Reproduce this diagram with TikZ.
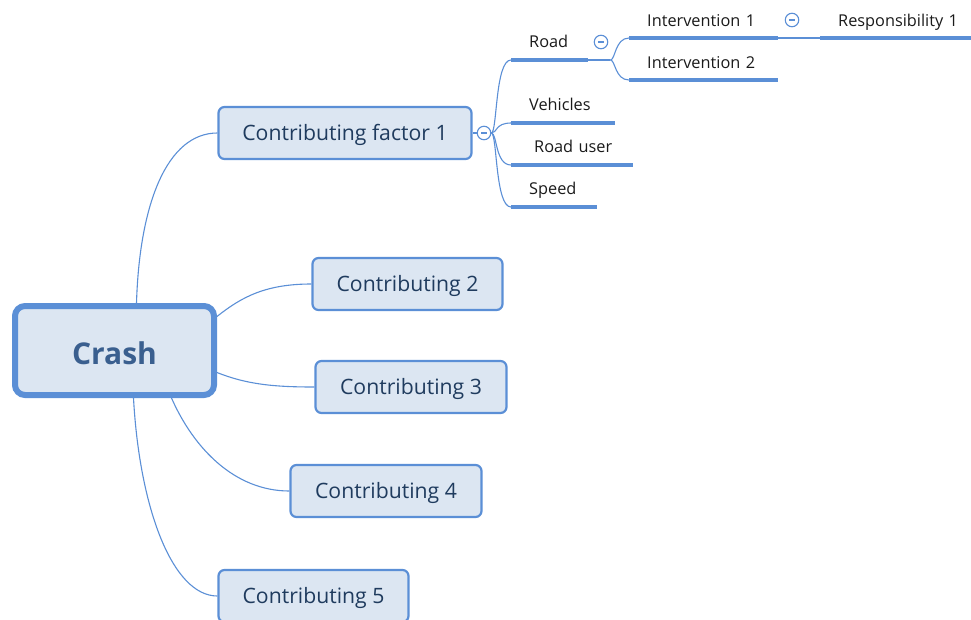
\documentclass[tikz,border=0pt]{standalone}
\usepackage{fontspec}
\setmainfont{Open Sans}
\definecolor{mblue}{HTML}{5B8FD6}
\definecolor{mfill}{HTML}{DCE6F2}
\definecolor{mtext}{HTML}{1F3B5E}
\definecolor{ctext}{HTML}{3A5F8F}
\definecolor{stext}{HTML}{1A1A1A}
\begin{document}
\begin{tikzpicture}[x=1pt,y=-1pt,
  conn/.style={draw=mblue, line width=1.1pt},
  uline/.style={draw=mblue, line width=3.6pt},
  central/.style={draw=mblue, fill=mfill, line width=6pt, rounded corners=10pt,
    minimum width=199pt, minimum height=89pt, text=ctext, text height=28.8pt, text depth=0pt,
    font=\fontsize{30}{34}\selectfont\bfseries},
  mainbox/.style={draw=mblue, fill=mfill, line width=2.2pt, rounded corners=6pt,
    minimum height=52pt, text=mtext, text height=20pt, text depth=5pt,
    font=\fontsize{21.2}{25}\selectfont},
  topic/.style={anchor=south west, inner xsep=0pt, inner ysep=0pt,
    text=stext, font=\fontsize{16.3}{19}\selectfont, align=left, text width=#1},
  icon/.style={circle, draw=mblue, fill=white, line width=1.1pt, minimum size=13.5pt, inner sep=0pt,
    path picture={\draw[mblue, line width=1.1pt] ([xshift=-3pt]path picture bounding box.center) -- ([xshift=3pt]path picture bounding box.center);}}
]
\useasboundingbox (0,0) rectangle (971,619);

% central and main topics
\node[central] (crash) at (114.5,350.5) {Crash};
\node[mainbox, minimum width=253pt] (cf1) at (345,133) {Contributing factor 1};
\node[mainbox, minimum width=190pt] (c2) at (407.5,284) {Contributing 2};
\node[mainbox, minimum width=191pt] (c3) at (411,387) {Contributing 3};
\node[mainbox, minimum width=191pt] (c4) at (386,491) {Contributing 4};
\node[mainbox, minimum width=190pt] (c5) at (313.5,596) {Contributing 5};

% connectors from the central topic
\draw[conn] ([xshift=22pt]crash.north) .. controls +(3,-100) and +(-50,0) .. (cf1.west);
\draw[conn] ([yshift=34pt]crash.east) .. controls +(25,-20) and +(-45,0) .. (c2.west);
\draw[conn] ([yshift=-22pt]crash.east) .. controls +(30,12) and +(-40,0) .. (c3.west);
\draw[conn] ([xshift=57pt]crash.south) .. controls +(22,50) and +(-55,0) .. (c4.west);
\draw[conn] ([xshift=19pt]crash.south) .. controls +(6,110) and +(-45,0) .. (c5.west);

% sub topics of Contributing factor 1
\node[icon] (i1) at (484,133) {};
\draw[conn] (cf1.east) -- (i1.west);

\node[topic=77pt] (road) at (511,60) {\hspace*{18pt}\raisebox{12pt}{Road}};
\node[topic=104pt] (veh) at (511,123) {\hspace*{18pt}\raisebox{12pt}{Vehicles}};
\node[topic=122pt] (ruser) at (511,165) {\hspace*{23pt}\raisebox{12pt}{Road user}};
\node[topic=86pt] (speed) at (511,207) {\hspace*{18pt}\raisebox{12pt}{Speed}};
\foreach \n in {road,veh,ruser,speed}{
  \draw[uline] (\n.south west) -- (\n.south east);
  \draw[conn] (i1.east) .. controls +(6,0) and +(-16,0) .. (\n.south west);
}

% Road -> interventions
\node[icon] (i2) at (601,42) {};
\coordinate (rb) at ([xshift=22pt]road.south east);
\draw[conn] (road.south east) -- (rb);
\node[topic=149pt] (int1) at (629,38) {\hspace*{18pt}\raisebox{11pt}{Intervention 1}};
\node[topic=149pt] (int2) at (629,80) {\hspace*{18pt}\raisebox{11pt}{Intervention 2}};
\foreach \n in {int1,int2}{
  \draw[uline] (\n.south west) -- (\n.south east);
  \draw[conn] (rb) .. controls +(5,0) and +(-14,0) .. (\n.south west);
}

% Intervention 1 -> Responsibility 1
\node[icon] (i3) at (792,20) {};
\node[topic=151pt] (resp) at (820,38) {\hspace*{18pt}\raisebox{11pt}{Responsibility 1}};
\draw[uline] (resp.south west) -- (resp.south east);
\draw[conn] (int1.south east) -- (resp.south west);
\end{tikzpicture}
\end{document}
